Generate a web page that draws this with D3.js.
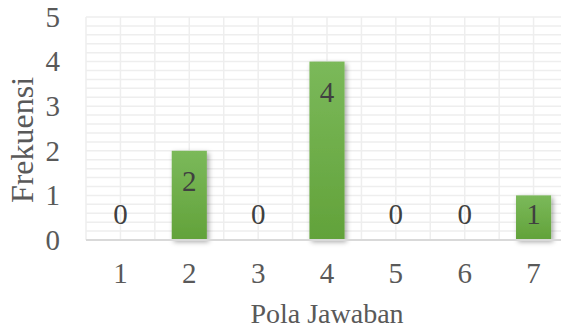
<!DOCTYPE html>
<html>
<head>
<meta charset="utf-8">
<script src="https://cdn.jsdelivr.net/npm/d3@7"></script>
<style>
  body { margin: 0; background: #fff; }
  svg text { font-family: 'Liberation Serif', 'Times New Roman', serif !important; }
</style>
</head>
<body>
<div id="chart"></div>
<script>
const categories = ['1', '2', '3', '4', '5', '6', '7']
const frekuensi = [0, 2, 0, 4, 0, 0, 1]
const yTicks = [0, 1, 2, 3, 4, 5]

const W = 561, H = 330
const margin = {top: 17, right: -7, bottom: 90, left: 86}
const width = W - margin.left - margin.right
const height = H - margin.top - margin.bottom
const fontSize = '29px'

const svg = d3.select('#chart')
  .append('svg')
  .attr('width', W)
  .attr('height', H)

const defs = svg.append('defs')
const grad = defs.append('linearGradient')
  .attr('id', 'barGrad')
  .attr('x1', 0).attr('y1', 0).attr('x2', 0).attr('y2', 1)
grad.append('stop').attr('offset', '0%').attr('stop-color', '#7bb95a')
grad.append('stop').attr('offset', '100%').attr('stop-color', '#62a23a')

const shadow = defs.append('filter')
  .attr('id', 'shadow')
  .attr('x', '-30%').attr('y', '-30%').attr('width', '160%').attr('height', '160%')
shadow.append('feDropShadow')
  .attr('dx', 2).attr('dy', 2).attr('stdDeviation', 2.5)
  .attr('flood-color', '#000').attr('flood-opacity', 0.35)

const g = svg.append('g')
  .attr('transform', `translate(${margin.left}, ${margin.top})`)

const x = d3.scaleBand().domain(categories).range([0, width]).paddingInner(0.49).paddingOuter(0.245)
const y = d3.scaleLinear().domain([0, 5]).range([height, 0])

// gridlines, every 0.2 horizontally, every half category vertically
const grid = g.append('g')
d3.range(0, 5.001, 0.2).forEach(v => {
  grid.append('line')
    .attr('x1', 0).attr('x2', width)
    .attr('y1', y(v)).attr('y2', y(v))
    .style('stroke', '#eeeeee').style('stroke-width', 1.5)
})
const step = x.step()
d3.range(0, categories.length * 2 + 1).forEach(k => {
  grid.append('line')
    .attr('x1', k * step / 2).attr('x2', k * step / 2)
    .attr('y1', 0).attr('y2', height)
    .style('stroke', '#eeeeee').style('stroke-width', 1.5)
})

// bars
g.append('g').selectAll('rect')
  .data(frekuensi)
  .join('rect')
  .attr('x', (d, i) => x(categories[i]))
  .attr('y', d => y(d))
  .attr('width', x.bandwidth())
  .attr('height', d => y(0) - y(d))
  .attr('fill', 'url(#barGrad)')
  .attr('filter', 'url(#shadow)')

// axis line
g.append('line')
  .attr('x1', 0).attr('x2', width)
  .attr('y1', y(0)).attr('y2', y(0))
  .style('stroke', '#d9d9d9').style('stroke-width', 2)

// data labels
g.append('g').selectAll('text')
  .data(frekuensi)
  .join('text')
  .attr('x', (d, i) => x(categories[i]) + x.bandwidth() / 2)
  .attr('y', d => Math.min(y(d) + 30, y(0) - 26))
  .attr('dy', '0.35em')
  .text(d => d)
  .style('text-anchor', 'middle')
  .style('font-size', fontSize)
  .style('fill', '#404040')

// y axis
const yAxis = g.append('g')
  .call(d3.axisLeft(y).tickValues(yTicks).tickFormat(d3.format('d')).tickSize(0).tickPadding(26))
yAxis.select('.domain').remove()
yAxis.selectAll('text')
  .style('font-size', fontSize)
  .style('fill', '#595959')

// x axis
const xAxis = g.append('g')
  .attr('transform', `translate(0, ${height})`)
  .call(d3.axisBottom(x).tickSize(0).tickPadding(22))
xAxis.select('.domain').remove()
xAxis.selectAll('text')
  .style('font-size', fontSize)
  .style('fill', '#595959')

// titles
svg.append('text')
  .attr('x', 327)
  .attr('y', 323)
  .text('Pola Jawaban')
  .style('text-anchor', 'middle')
  .style('font-size', '28px')
  .style('fill', '#595959')

svg.append('text')
  .attr('transform', 'translate(33, 140) rotate(-90)')
  .text('Frekuensi')
  .style('text-anchor', 'middle')
  .style('font-size', '32px')
  .style('fill', '#595959')
</script>
</body>
</html>
